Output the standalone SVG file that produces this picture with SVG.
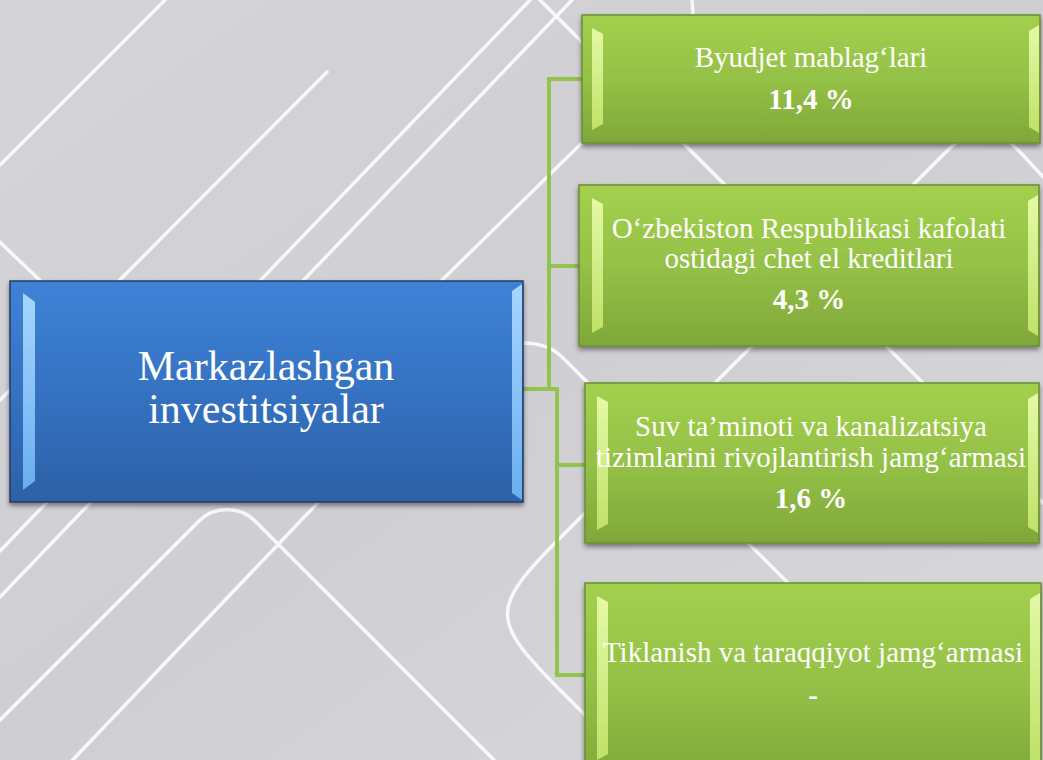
<svg xmlns="http://www.w3.org/2000/svg" width="1043" height="760" viewBox="0 0 1043 760">
<defs>
  <linearGradient id="bg" x1="0" y1="0" x2="1" y2="1">
    <stop offset="0" stop-color="#d5d5d9"/>
    <stop offset="0.5" stop-color="#cfcfd3"/>
    <stop offset="1" stop-color="#d9d9dc"/>
  </linearGradient>
  <linearGradient id="blue" x1="0" y1="0" x2="0" y2="1">
    <stop offset="0" stop-color="#3e82d6"/>
    <stop offset="0.5" stop-color="#3572c2"/>
    <stop offset="1" stop-color="#2d61a7"/>
  </linearGradient>
  <linearGradient id="green" x1="0" y1="0" x2="0" y2="1">
    <stop offset="0" stop-color="#a4d04f"/>
    <stop offset="0.5" stop-color="#94c146"/>
    <stop offset="1" stop-color="#80a73a"/>
  </linearGradient>
  <linearGradient id="gbev" x1="0" y1="0" x2="0" y2="1">
    <stop offset="0" stop-color="#e4f9a6"/>
    <stop offset="1" stop-color="#bfe268"/>
  </linearGradient>
  <linearGradient id="bbev" x1="0" y1="0" x2="0" y2="1">
    <stop offset="0" stop-color="#a6d6ff"/>
    <stop offset="1" stop-color="#6aaeef"/>
  </linearGradient>
  <filter id="sh" x="-10%" y="-10%" width="120%" height="130%">
    <feDropShadow dx="0" dy="3" stdDeviation="2.5" flood-color="#000" flood-opacity="0.45"/>
  </filter>
</defs>
<style>
  .bgl{fill:none;stroke:#f8f8fa;stroke-width:3.5;stroke-linecap:round;stroke-linejoin:round}
  .con{fill:none;stroke:#93c24d;stroke-width:4}
  .t{font-family:"Liberation Serif","Times New Roman",serif;fill:#ffffff;text-anchor:middle}
  .g{font-size:29px}
  .b{font-weight:bold}
  .m{font-size:42px}
  .gb{fill:url(#green);stroke:#6a8f2c;stroke-width:1.5}
  .bb{fill:url(#blue);stroke:#1f3d68;stroke-width:1.5}
  .gv{fill:url(#gbev)}
  .bv{fill:url(#bbev)}
</style>

<rect x="0" y="0" width="1043" height="760" fill="url(#bg)"/>

<g id="background-lines">
  <path class="bgl" d="M 530 0 L 0 551"/>
  <path class="bgl" d="M 572 0 L 0 597"/>
  <path class="bgl" d="M 327 72 L 0 400"/>
  <path class="bgl" d="M 0 165 L 165 0"/>
  <path class="bgl" d="M 592 133 L 440 282"/>
  <path class="bgl" d="M 540 0 L 1043 503"/>
  <path class="bgl" d="M 1060 195 L 1020 152 Q 985 114 950 148 L 560 538 C 490 608 490 620 560 690 L 620 750"/>
  <path class="bgl" d="M 523 343 Q 548 343 562 357 L 820 615"/>
  <path class="bgl" d="M 0 720 L 199 521 A 40 40 0 0 1 255 521 L 494 760"/>
  <path class="bgl" d="M 330 490 L 65 768"/>
  <path class="bgl" d="M 0 242 Q 10 252 45 285"/>
  <path class="bgl" d="M 692 0 L 693 14"/>
</g>

<g id="connectors">
  <path class="con" d="M 523 389 H 559"/>
  <path class="con" d="M 549 391 V 79 H 583"/>
  <path class="con" d="M 549 266 H 580"/>
  <path class="con" d="M 557 387 V 675 H 586"/>
  <path class="con" d="M 557 465 H 586"/>
</g>

<g id="main">
  <rect class="bb" x="10" y="281" width="513" height="221" filter="url(#sh)"/>
  <polygon class="bv" points="23,293 35,302 35,481 23,490"/>
  <polygon class="bv" points="522,284 512,291 512,493 522,500"/>
  <text class="t m" x="266" y="380">Markazlashgan</text>
  <text class="t m" x="266" y="423">investitsiyalar</text>
</g>

<g id="n1">
  <rect class="gb" x="582" y="15" width="458" height="128" filter="url(#sh)"/>
  <polygon class="gv" points="592,28 603,34 603,124 592,130"/>
  <polygon class="gv" points="1039,25 1029,31 1029,127 1039,133"/>
  <text class="t g" x="811" y="67">Byudjet mablag‘lari</text>
  <text class="t g b" x="811" y="109">11,4 %</text>
</g>

<g id="n2">
  <rect class="gb" x="579" y="185" width="460" height="161" filter="url(#sh)"/>
  <polygon class="gv" points="592,198 603,204 603,327 592,333"/>
  <polygon class="gv" points="1038,195 1028,201 1028,330 1038,336"/>
  <text class="t g" x="809" y="238">O‘zbekiston Respublikasi kafolati</text>
  <text class="t g" x="809" y="268">ostidagi chet el kreditlari</text>
  <text class="t g b" x="809" y="309">4,3 %</text>
</g>

<g id="n3">
  <rect class="gb" x="585" y="383" width="454" height="160" filter="url(#sh)"/>
  <polygon class="gv" points="597,396 608,402 608,524 597,530"/>
  <polygon class="gv" points="1038,393 1028,399 1028,527 1038,533"/>
  <text class="t g" x="811" y="436">Suv ta’minoti va kanalizatsiya</text>
  <text class="t g" x="811" y="467">tizimlarini rivojlantirish jamg‘armasi</text>
  <text class="t g b" x="811" y="508">1,6 %</text>
</g>

<g id="n4">
  <rect class="gb" x="585" y="583" width="456" height="200" filter="url(#sh)"/>
  <polygon class="gv" points="597,596 608,602 608,754 597,760"/>
  <polygon class="gv" points="1040,593 1030,599 1030,760 1040,760"/>
  <text class="t g" x="813" y="662">Tiklanish va taraqqiyot jamg‘armasi</text>
  <text class="t g b" x="813" y="705">-</text>
</g>
</svg>
